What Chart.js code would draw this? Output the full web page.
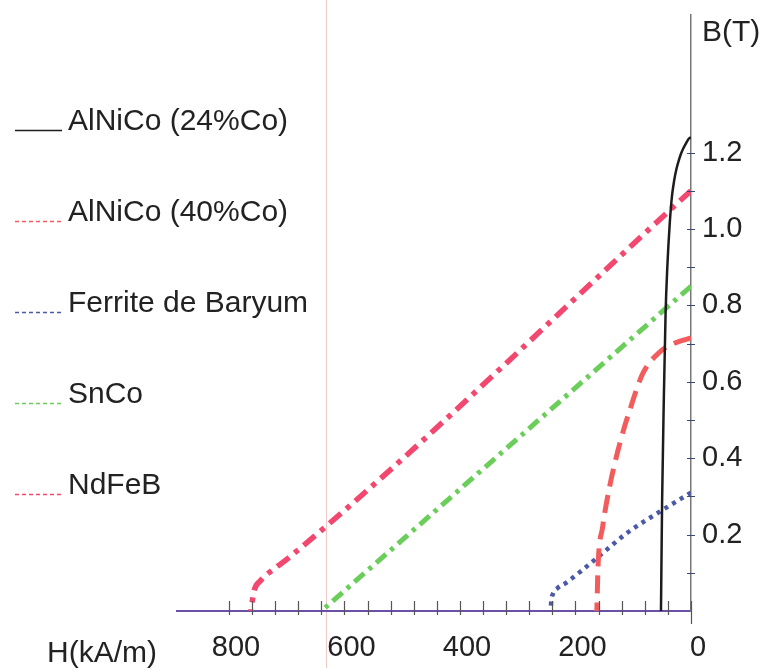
<!DOCTYPE html>
<html>
<head>
<meta charset="utf-8">
<title>Courbes de désaimantation</title>
<script src="https://cdn.jsdelivr.net/npm/chart.js@4.4.1/dist/chart.umd.min.js"></script>
<style>
  html, body { margin: 0; padding: 0; background: #fff; }
  #wrap { position: relative; width: 769px; height: 668px; }
  /* trace verticale du scan */
  #fold { position: absolute; left: 326px; top: 0; width: 1px; height: 668px; background: #f2c9c9; }
  canvas { position: absolute; left: 0; top: 0; }
</style>
</head>
<body>
<div id="wrap">
  <div id="fold"></div>
  <canvas id="chart" width="769" height="668"></canvas>
</div>
<script>
// ---------------------------------------------------
// Données : H en kA/m, B en T
// ---------------------------------------------------
const seriesLabels = ['AlNiCo (24%Co)', 'AlNiCo (40%Co)', 'Ferrite de Baryum', 'SnCo', 'NdFeB'];

const alnico24H = [0, 4, 8, 13, 17, 21, 25, 29, 33, 37, 41, 44, 47, 50, 52];
const alnico24B = [1.24, 1.236, 1.226, 1.212, 1.198, 1.18, 1.158, 1.128, 1.085, 1.01, 0.9, 0.78, 0.56, 0.29, 0];

const alnico40H = [0, 30, 54, 83, 106, 123, 141, 153, 161, 163];
const alnico40B = [0.715, 0.70, 0.678, 0.623, 0.526, 0.44, 0.325, 0.22, 0.115, 0];

const ferriteH = [0, 54, 111, 158, 190, 215, 231, 239, 242, 243];
const ferriteB = [0.31, 0.26, 0.204, 0.145, 0.105, 0.075, 0.06, 0.045, 0.025, 0];

const sncoH = [0, 640];
const sncoB = [0.85, 0];

const ndfebH = [0, 700, 725, 745, 757, 762];
const ndfebB = [1.1, 0.135, 0.107, 0.08, 0.05, 0];

const xTickLabels = [0, 200, 400, 600, 800];
const yTickLabels = [0.2, 0.4, 0.6, 0.8, 1.0, 1.2];

// styles
const FONT = "'Liberation Sans', Arial, sans-serif";
const colors = ['#1c1c1c', '#f25c5c', '#4b5aa6', '#6cce5a', '#f2476f'];
const widths = [2.5, 5, 4.5, 5, 5.5];
const dashes = [[], [18, 9], [4, 5], [13, 6, 4, 6], [15, 7, 5, 7]];
const legendDash = [[], [4, 3], [4, 3], [4, 3], [4, 3]];

const toPoints = (hs, bs) => hs.map((h, i) => ({ x: h, y: bs[i] }));
const seriesData = [
  toPoints(alnico24H, alnico24B),
  toPoints(alnico40H, alnico40B),
  toPoints(ferriteH, ferriteB),
  toPoints(sncoH, sncoB),
  toPoints(ndfebH, ndfebB),
];

const datasets = seriesLabels.map((label, i) => ({
  label,
  data: seriesData[i],
  borderColor: colors[i],
  borderWidth: widths[i],
  borderDash: dashes[i],
  borderCapStyle: 'butt',
  pointRadius: 0,
  fill: false,
  cubicInterpolationMode: 'monotone',
}));

const noPad = s => { s.paddingTop = 0; s.paddingBottom = 0; s.paddingLeft = 0; s.paddingRight = 0; };

// ticks qui traversent les axes, titres d'axes et légende
const decor = {
  id: 'decor',
  afterDraw(chart) {
    const { ctx, chartArea: a, scales: { x, y } } = chart;
    ctx.save();

    ctx.strokeStyle = '#555';
    ctx.lineWidth = 1.2;
    ctx.beginPath();
    x.ticks.forEach(t => {
      const px = Math.round(x.getPixelForValue(t.value)) + 0.5;
      ctx.moveTo(px, a.bottom - 10);
      ctx.lineTo(px, a.bottom + (t.value === 0 ? 13 : 4));
    });
    ctx.stroke();

    ctx.strokeStyle = '#3c4678';
    ctx.beginPath();
    y.ticks.forEach(t => {
      if (t.value <= 0) return;
      const py = Math.round(y.getPixelForValue(t.value)) + 0.5;
      ctx.moveTo(a.right - 4, py);
      ctx.lineTo(a.right + 4, py);
    });
    ctx.stroke();

    ctx.fillStyle = '#222';
    ctx.font = '30px ' + FONT;
    ctx.textBaseline = 'alphabetic';
    ctx.textAlign = 'left';
    ctx.fillText('B(T)', a.right + 11, a.top + 26);
    ctx.fillText('H(kA/m)', 47, a.bottom + 51);

    chart.data.datasets.forEach((ds, i) => {
      const yb = 130 + i * 91;
      ctx.strokeStyle = ds.borderColor;
      ctx.lineWidth = 1.5;
      ctx.setLineDash(legendDash[i]);
      ctx.beginPath();
      ctx.moveTo(15, yb + 0.5);
      ctx.lineTo(62, yb + 0.5);
      ctx.stroke();
      ctx.setLineDash([]);
      ctx.fillText(ds.label, 68, yb);
    });

    ctx.restore();
  },
};

new Chart(document.getElementById('chart'), {
  type: 'line',
  data: { datasets },
  options: {
    responsive: false,
    animation: false,
    layout: { padding: { left: 177, top: 15, right: 0, bottom: 0 } },
    plugins: { legend: { display: false }, tooltip: { enabled: false } },
    scales: {
      x: {
        type: 'linear',
        reverse: true,
        min: 0,
        max: 890,
        border: { color: '#6b50a8', width: 2 },
        grid: { display: false, drawTicks: false },
        ticks: {
          stepSize: 40,
          autoSkip: false,
          maxRotation: 0,
          padding: 20,
          labelOffset: 7,
          color: '#222',
          font: { family: FONT, size: 29 },
          callback: v => (xTickLabels.includes(v) ? String(v) : ''),
        },
        afterBuildTicks: s => { s.ticks = s.ticks.filter(t => t.value <= 800); },
        afterFit: s => { s.height = 57; noPad(s); },
      },
      y: {
        position: 'right',
        min: 0,
        max: 1.56,
        border: { color: '#777', width: 1.5 },
        grid: { display: false, drawTicks: false },
        ticks: {
          stepSize: 0.1,
          autoSkip: false,
          padding: 11,
          color: '#222',
          font: { family: FONT, size: 29 },
          callback: v => {
            const r = Math.round(v * 10) / 10;
            return yTickLabels.includes(r) ? r.toFixed(1) : '';
          },
        },
        afterBuildTicks: s => { s.ticks = s.ticks.filter(t => t.value <= 1.2001); },
        afterFit: s => { s.width = 78; noPad(s); },
      },
    },
  },
  plugins: [decor],
});
</script>
</body>
</html>
